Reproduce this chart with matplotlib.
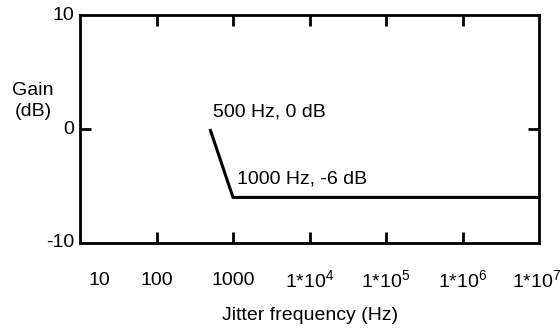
import matplotlib
matplotlib.use("Agg")
import matplotlib.pyplot as plt

# jitter tolerance mask
freq_hz = [500, 1000, 1e7]
gain_db = [0, -6, -6]

x_tick_vals = [10, 100, 1000, 1e4, 1e5, 1e6, 1e7]
x_tick_text = ["10", "100", "1000", "1*10$^{4}$", "1*10$^{5}$", "1*10$^{6}$", "1*10$^{7}$"]
y_tick_vals = [10, 0, -10]

plt.rcParams["font.family"] = ["Liberation Sans", "DejaVu Sans"]
plt.rcParams["mathtext.fontset"] = "custom"
plt.rcParams["mathtext.rm"] = "Liberation Sans"
plt.rcParams["mathtext.it"] = "Liberation Sans"
plt.rcParams["mathtext.default"] = "regular"

fig = plt.figure(figsize=(5.6, 3.29), dpi=100)
ax = fig.add_axes([0.1429, 0.2614, 0.8196, 0.693])

ax.plot(freq_hz, gain_db, color="black", lw=2.2, solid_joinstyle="round", solid_capstyle="butt")

ax.set_xscale("log")
ax.set_xlim(10, 1e7)
ax.set_ylim(-10, 10)

for s in ax.spines.values():
    s.set_linewidth(2.0)

# inward ticks at the inner decades, top and bottom
ax.set_xticks(x_tick_vals[1:-1])
ax.set_xticklabels([])
ax.xaxis.set_minor_locator(plt.NullLocator())
ax.tick_params(axis="x", direction="in", length=8, width=2.0, top=True, bottom=True)
ax.set_yticks([0])
ax.set_yticklabels([])
ax.tick_params(axis="y", direction="in", length=8, width=2.0, left=True, right=True)

fs = 14
tr = ax.get_xaxis_transform()
for i, (v, t) in enumerate(zip(x_tick_vals, x_tick_text)):
    dx = 0
    if i == 0:
        dx = 14
    elif i == len(x_tick_vals) - 1:
        dx = -2
    ax.annotate(t, xy=(v, 0), xycoords=tr, xytext=(dx, -27), textcoords="offset points",
                ha="center", va="center", fontsize=fs, annotation_clip=False)

ytr = ax.get_yaxis_transform()
for v in y_tick_vals:
    ax.annotate(str(v), xy=(0, v), xycoords=ytr, xytext=(-4, 0), textcoords="offset points",
                ha="right", va="center", fontsize=fs, annotation_clip=False)

ax.text(500 * 1.08, 1.5, "500 Hz, 0 dB", fontsize=fs, ha="left", va="center")
ax.text(1000 * 1.13, -4.4, "1000 Hz, -6 dB", fontsize=fs, ha="left", va="center")

fig.text(0.059, 0.693, "Gain\n(dB)", fontsize=fs, ha="center", va="center", linespacing=1.3)
fig.text(0.554, 0.04, "Jitter frequency (Hz)", fontsize=fs, ha="center", va="center")

fig.savefig("out.png", dpi=100)
